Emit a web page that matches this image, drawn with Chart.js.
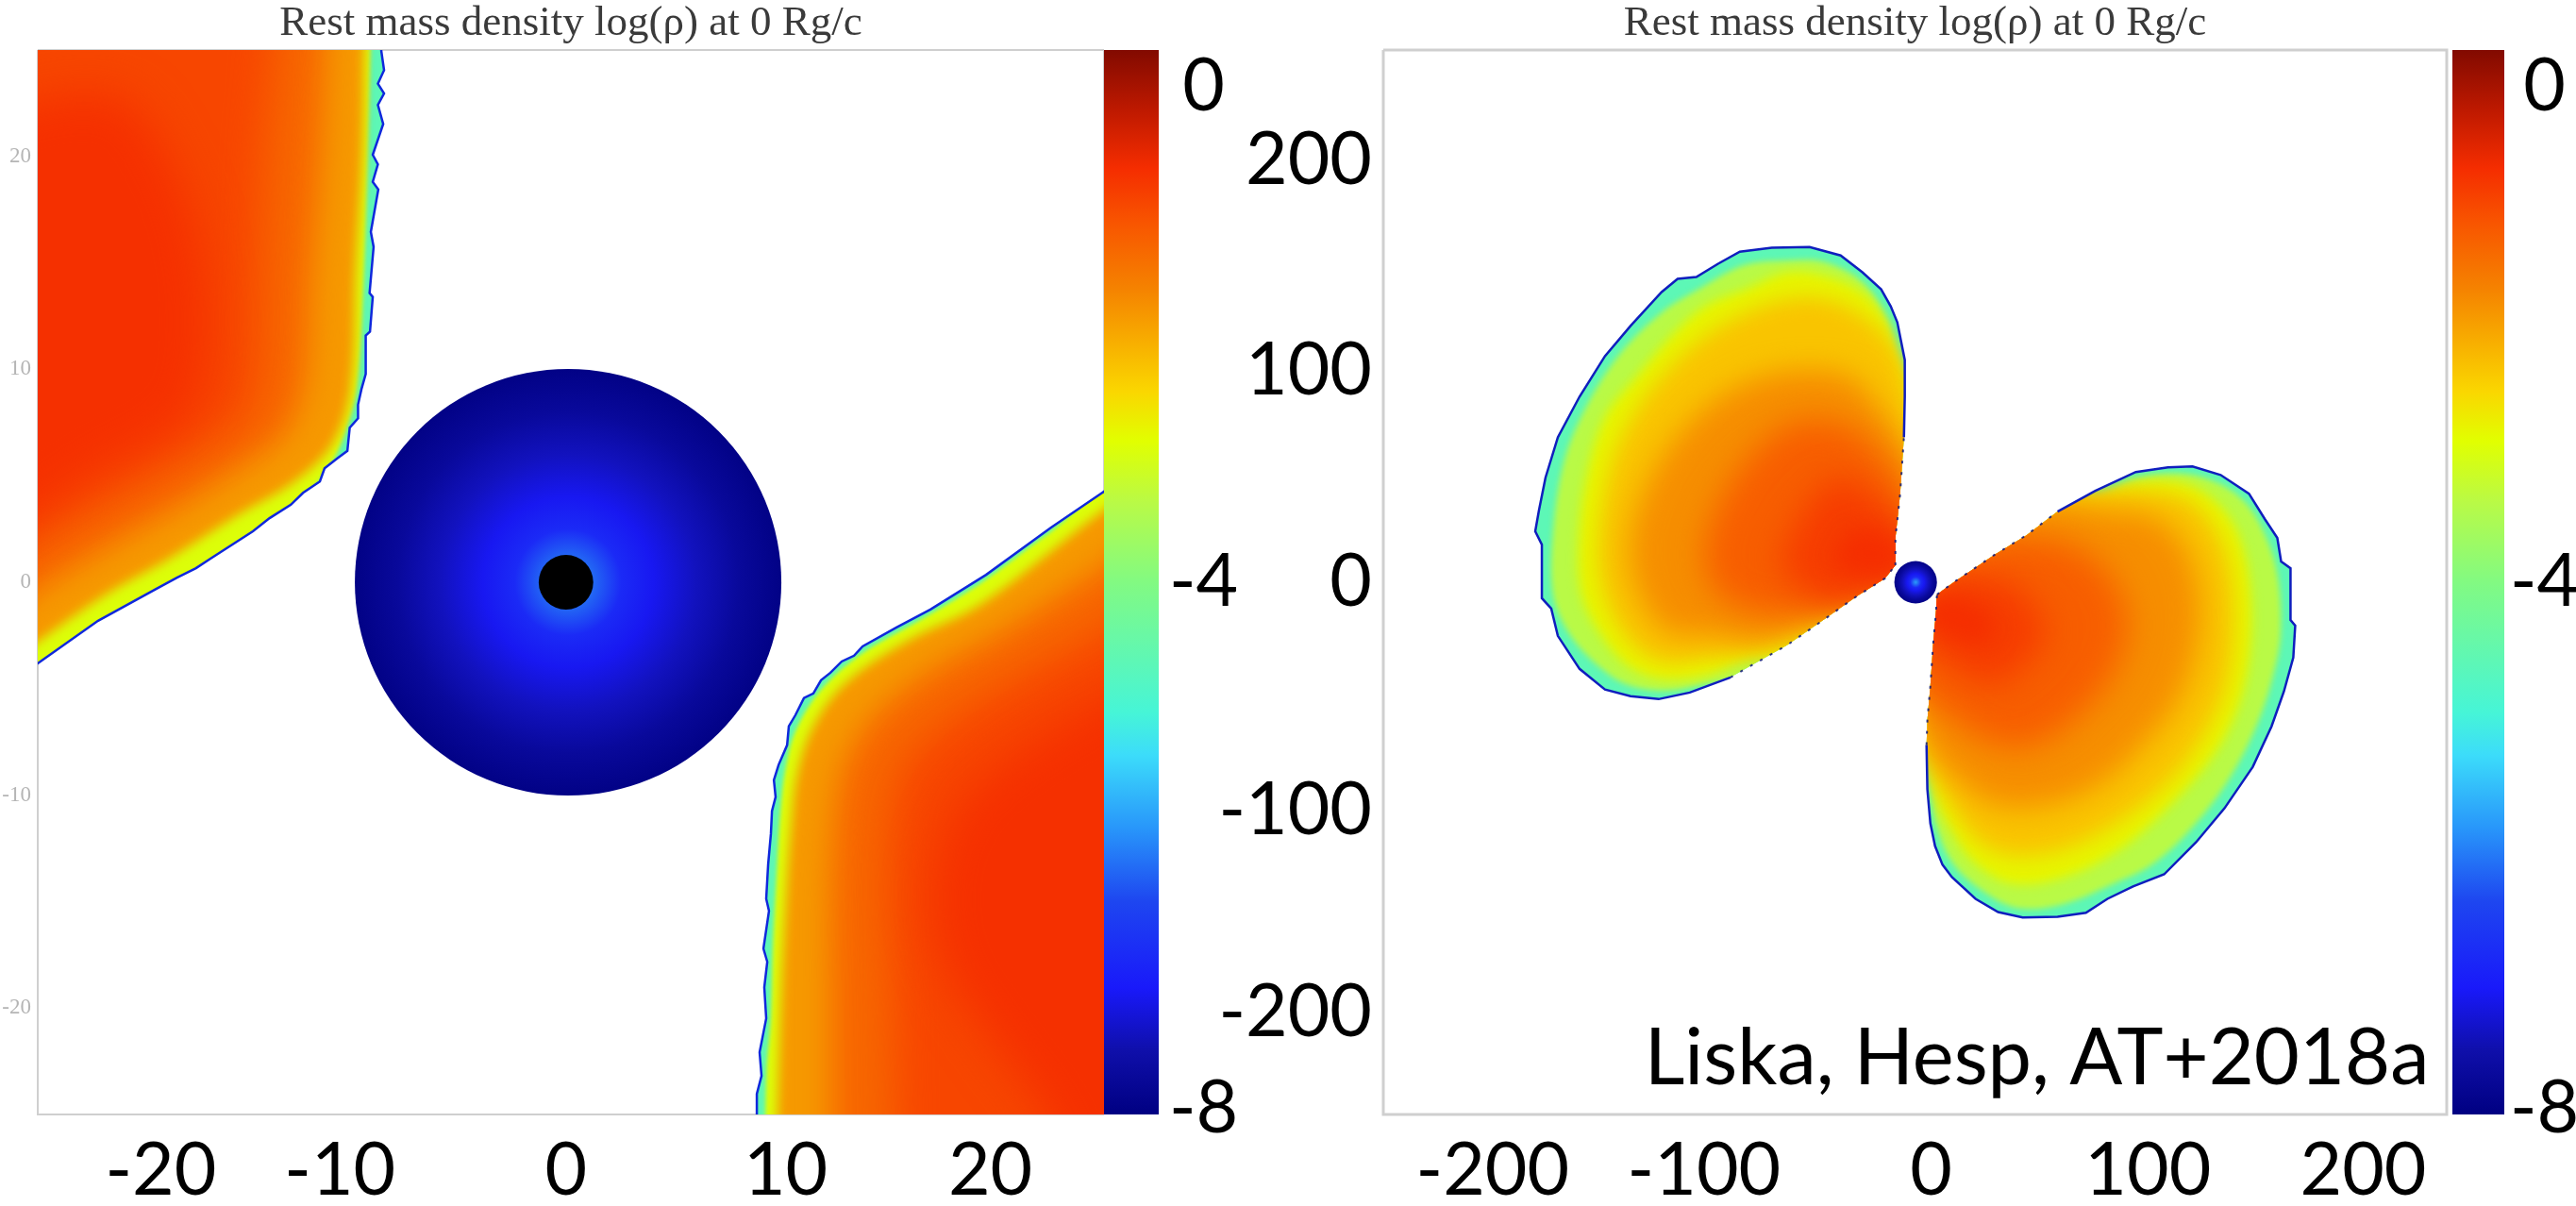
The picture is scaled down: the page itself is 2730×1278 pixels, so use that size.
<!DOCTYPE html>
<html><head><meta charset="utf-8">
<style>html,body{margin:0;padding:0;background:#fff;overflow:hidden}canvas{position:absolute;top:0}</style>
<script src="https://cdn.jsdelivr.net/npm/chart.js@4"></script>
</head><body>
<canvas id="pL" width="1170" height="1278" style="left:0"></canvas>
<canvas id="cL" width="160" height="1278" style="left:1170px"></canvas>
<canvas id="pR" width="1317" height="1278" style="left:1280px"></canvas>
<canvas id="cR" width="131" height="1278" style="left:2599px"></canvas>
<script>
const titleText='Rest mass density log(\u03C1) at 0 Rg/c';
const creditText='Liska, Hesp, AT+2018a';
const creditAnchor=[241,-236];
const cmapLevels=[-8,-7.52,-7.05,-6.4,-5.85,-5.3,-4.98,-4,-3.4,-2.94,-2.57,-1.79,-1.3,-0.89,-0.45,0];
const cmapColors=[[0,0,130],[15,15,170],[25,25,250],[30,70,240],[40,150,250],[60,220,250],[70,245,215],[130,250,130],[185,250,70],[225,255,0],[250,215,0],[245,130,0],[248,85,0],[245,45,0],[190,25,0],[130,10,0]];
const colorbarTickValues=[-7.96,-4,-0.28];
const colorbarTickLabels=['-8','-4','0'];
// Tick labels sit where the figure's author placed them, slightly off the true tick values
const leftTickLabelsX=['-20','-10','0','10','20'],leftTickPlacesX=[-19.1,-10.7,-0.1,10.2,19.8];
const leftTicksY=[-20,-10,0,10,20];
const rightTickLabelsX=['-200','-100','0','100','200'],rightTickPlacesX=[-198.5,-99.3,7.3,109,210];
const rightTickLabelsY=['200','100','0','-100','-200'],rightTickPlacesY=[198,99,0,-107.5,-202];
const sphereCenter=[0,0],sphereRadius=10,holeCenter=[-0.1,0],holeRadius=1.28;
const sphereRadii=[0,1.3,2.5,4,6,8,10];
const sphereLevels=[-5.8,-6.2,-6.8,-7.1,-7.4,-7.7,-7.95];

// Upper-left flow (inner panel)
const flowAEdge=[[-8.76,28],[-8.76,24.96],[-8.63,24.05],[-8.92,23.42],[-8.63,22.96],[-8.92,22.42],[-8.67,21.52],[-9.16,20.08],[-8.92,19.63],[-9.16,18.81],[-8.9,18.45],[-9.25,16.46],[-9.12,15.75],[-9.31,13.58],[-9.16,13.4],[-9.29,11.77],[-9.49,11.59],[-9.49,9.78],[-9.69,9.07],[-9.85,8.34],[-9.85,7.7],[-10.24,7.26],[-10.35,6.17],[-10.84,5.81],[-11.42,5.35],[-11.64,4.73],[-12.43,4.2],[-13,3.64],[-14,3.01],[-14.78,2.39],[-16.77,1.11],[-17.45,0.66],[-18.34,0.22],[-19.34,-0.33],[-22.04,-1.81],[-25,-3.9],[-28,-6]];
const flowACorner=[[-28,28]];
const flowA1=[[-9.2,28],[-9.4,20],[-9.6,14],[-9.9,9.2],[-10.4,7.2],[-11.2,5.4],[-13,3.4],[-16.8,0.7],[-19.4,-0.8],[-28,-6.3],[-28,28]];
const flowA2=[[-9.5,28],[-9.56,24.96],[-9.65,20.09],[-9.96,14.65],[-10.18,9.25],[-11.02,6.55],[-12.83,4.73],[-15.58,3.1],[-18.72,1.1],[-21.68,-0.58],[-24.87,-2.79],[-28,-4.9],[-28,28]];
const flowA3=[[-11.3,28],[-11.37,24.96],[-11.59,20.09],[-12.04,14.47],[-12.39,9.25],[-13.36,6.95],[-15.13,5.62],[-17.79,3.85],[-20.88,2.08],[-24.87,-0.35],[-28,-2.4],[-28,28]];
const flowA4=[[-13.7,28],[-13.81,24.96],[-14.25,20.09],[-14.47,14.03],[-14.69,9.16],[-15.58,7.39],[-17.79,6.06],[-20.88,4.29],[-24.87,2.08],[-28,0],[-28,28]];
const flowA5=[[-28,21.9],[-21.33,22.88],[-18.67,19.78],[-17.12,14.91],[-17.12,9.6],[-18.23,7.39],[-21.33,5.62],[-28,2.5]];

// Lower-right flow (inner panel)
const flowBEdge=[[28,6.2],[25.04,4.2],[22.65,2.57],[19.6,0.35],[16.99,-1.28],[15.4,-2.12],[13.81,-3.01],[13.41,-3.45],[12.83,-3.72],[12.3,-4.25],[11.86,-4.6],[11.5,-5.22],[11.06,-5.44],[10.66,-6.24],[10.35,-6.77],[10.27,-7.65],[9.87,-8.58],[9.65,-9.29],[9.73,-10.09],[9.56,-10.75],[9.51,-11.81],[9.38,-13.27],[9.29,-14.87],[9.42,-15.44],[9.16,-17.21],[9.34,-17.83],[9.2,-19.03],[9.29,-20.49],[8.98,-22.08],[9.07,-23.19],[8.85,-24.03],[8.85,-28]];
const flowBCorner=[[28,-28]];
const flowB1=[[9.2,-28],[9.3,-23],[9.5,-20.5],[9.6,-17.2],[9.8,-13.3],[9.95,-10.8],[10.2,-8.7],[10.7,-6.9],[11.9,-5],[13.7,-3.4],[16.8,-1.6],[19.4,0],[22.4,2.2],[28,6],[28,-28]];
const flowB2=[[9.73,-28],[10,-19.16],[10.22,-14.73],[10.44,-11.64],[10.75,-8.98],[11.5,-6.77],[12.96,-4.78],[15.84,-2.79],[19.38,-1.02],[25.13,3.41],[28,5.3],[28,-28]];
const flowB3=[[12.3,-28],[12.3,-19.16],[12.3,-14.73],[12.52,-10.75],[12.96,-8.54],[14.29,-6.33],[16.73,-4.34],[20.27,-2.35],[25.13,0.75],[28,2.6],[28,-28]];
const flowB4=[[15.4,-28],[15.18,-19.16],[14.96,-14.73],[15.18,-10.75],[15.84,-8.54],[17.61,-6.77],[20.27,-5],[25.13,-2.35],[28,-0.7],[28,-28]];
const flowB5=[[28,-3.9],[21.59,-7.65],[18.5,-10.31],[17.17,-13.85],[17.61,-17.83],[19.82,-21.37],[22.48,-25],[24,-28],[28,-28]];

// Upper-left lobe (outer panel)
const lobeAThinA=[[-9.5,8],[-9.5,20.8],[-7.3,41.2],[-5.5,68.1]];
const lobeAEdge=[[-5.5,68.1],[-5.1,87.2],[-5.1,104.4],[-8.6,122.1],[-11.7,129.6],[-16.2,137.6],[-25,145.6],[-35.2,153.5],[-49.8,157.5],[-67.5,157.1],[-82.5,155.3],[-92.7,149.6],[-102.9,143.4],[-111.7,142.5],[-119.2,136.3],[-133.8,120.4],[-145.8,106.2],[-157.7,87.2],[-167.9,68.1],[-173.7,49.1],[-176.8,33.6],[-178.5,23.9],[-175.4,17.7],[-175.4,-7.5],[-171,-12.4],[-167.9,-25.2],[-157.7,-40.7],[-145.8,-50.4],[-133.8,-53.5],[-120.6,-54.9],[-106,-51.8],[-86.9,-44.7]];
const lobeAThinB=[[-86.9,-44.7],[-60.4,-29.6],[-42.7,-17.3],[-27.7,-6.6],[-14.4,1.8],[-9.5,8]];
const lobeA2=[[0,74.6],[-9.3,109.3],[-13.7,123.6],[-24.8,140.9],[-42.5,150.4],[-60.2,151.2],[-80.9,148.8],[-101.5,137.8],[-119.2,126.7],[-138.4,107.8],[-154.6,82.5],[-164.9,57.2],[-170.1,24],[-170.1,-6],[-162,-25],[-147.2,-40.8],[-134,-48.7],[-116.3,-51],[-94.1,-47.1],[-72,-45],[-49.9,-35],[-27.8,-20],[-5,-5]];
const lobeA3=[[0,80.9],[-10.05,109.3],[-14.5,123.6],[-24.8,136.2],[-42.5,144.1],[-60.2,145.7],[-79.4,137.8],[-98.5,129.9],[-113.3,117.2],[-131,96.7],[-145.8,77.7],[-154.6,49.3],[-158.3,17.7],[-156.8,-6],[-148.7,-23.4],[-135.4,-39.2],[-119.2,-45.5],[-98.5,-43.9],[-77.9,-36],[-57.2,-35],[-35.1,-22],[-20.4,-12],[0,0]];
const lobeA4=[[0,74.6],[-8,107],[-24.8,125.1],[-42.5,133],[-60.2,133],[-79.4,126.7],[-98.5,115.7],[-116.3,99.9],[-131,80.9],[-142.8,55.6],[-148.7,17.7],[-145.8,-6],[-135.4,-26.5],[-119.2,-37.6],[-98.5,-36],[-75,-32],[-54.3,-26],[-33.6,-15],[0,0]];
const lobeA5=[[0,55.6],[-16,80.9],[-30.7,96.7],[-49.9,99.9],[-72,96.7],[-94.1,85.6],[-113.3,66.7],[-126.6,44.6],[-134,17.7],[-129.5,-6],[-116.3,-23.4],[-95.6,-25],[-72,-28],[-49.9,-20],[-27.8,-12],[0,0]];
const lobeA6=[[-2,39.8],[-20.4,65.1],[-35.1,74.6],[-57.2,74.6],[-75,61.9],[-89.7,41.4],[-98.5,17.7],[-95.6,-1.3],[-80.9,-12.3],[-57.2,-15],[-27.8,-8],[-5,0]];
const lobeA7=[[-2,24],[-20.4,41.4],[-35.1,49.3],[-48.4,39.8],[-57.2,25.6],[-63.1,9.8],[-54.3,-2.8],[-35.1,-10],[-5,3]];
const lobeA8=[[-5,17.7],[-23.3,25.6],[-33.6,20.9],[-38.1,8.2],[-27.8,3.5],[-8,4]];

// Lower-right lobe (outer panel)
const lobeBThinA=[[10,-5.8],[17.9,0],[36.9,12.8],[52,22.1],[66.6,33.2]];
const lobeBEdge=[[66.6,33.2],[84.3,42.9],[103.3,51.8],[118.4,54],[129.9,54.4],[143.1,50.4],[156.4,41.6],[163.9,29.6],[169.7,20.8],[171.5,9.7],[175.9,6.6],[175.9,-17.7],[178.1,-20.4],[177.2,-35.4],[172.8,-51.3],[167,-67.7],[158.2,-86.7],[144.9,-106.2],[131.6,-122.1],[116.6,-137.2],[102,-142.9],[90,-148.7],[79.9,-155.3],[66.6,-157.1],[50.2,-157.5],[38.7,-154.9],[28.1,-148.7],[17,-138.5],[12.6,-132.7],[9.1,-123.9],[6.9,-113.3],[5.5,-97.3],[5.1,-76.5]];
const lobeBThinB=[[5.1,-76.5],[5.5,-64.6],[6.9,-48.7],[8.2,-29.2],[9.5,-14.6],[10,-5.8]];
const lobeB2=[[40,30],[60,42],[84.3,40.7],[103.5,48.8],[125.6,51],[141.8,46.6],[155.1,37],[164,22.2],[169.9,3],[171.3,-23.5],[168.4,-41.2],[161,-64.8],[147.7,-91.4],[130,-115],[110.9,-132.7],[93.2,-141.5],[69.6,-151.1],[48.9,-153.3],[32.7,-145.9],[17.9,-132.7],[9.8,-115],[6.9,-97.3],[0,-67.8],[0,-30.9],[0,5]];
const lobeB3=[[30,25],[45,35],[62,40],[84.3,39.9],[103.5,46.6],[125.6,46.6],[141.8,37],[152.2,20.8],[157.3,-5.8],[156.6,-35.3],[150.7,-60.4],[138.9,-82.5],[118.2,-106.1],[96.1,-125.3],[69.6,-138.6],[44.5,-141.5],[26.8,-131.2],[16.5,-116.4],[9.8,-101.7],[6.9,-82.5],[0,-67.8],[0,-30.9],[0,5]];
const lobeB4=[[75,42],[103.5,42.9],[125.6,39.9],[137.4,29.6],[146.3,10.4],[149.2,-16.1],[146.3,-45.6],[137.4,-67.8],[119.7,-92.8],[96.1,-112],[69.6,-125.3],[44.5,-128.2],[28.3,-120.9],[16.5,-104.6],[5,-82.5],[0,-60.4],[0,-23.5],[0,5],[30,25],[45,35]];
const lobeB5=[[65,38],[88.7,34],[110.9,31.1],[125.6,17.8],[133,-5.8],[131.5,-30.9],[122.7,-55.9],[106.4,-76.6],[87.3,-94.3],[62.2,-104.6],[37.1,-104.6],[19.4,-92.8],[4,-75.1],[0,-50],[0,-17.6],[10,5],[40,30]];
const lobeB6=[[42,22],[66.6,19.3],[84.3,10.4],[96.1,-5.8],[99.1,-23.5],[91.7,-44.2],[75.5,-63.3],[54.8,-76.6],[34.2,-75.1],[17.9,-64.8],[0,-50],[0,-17.6],[15,8]];
const lobeB7=[[15,5],[44.5,0.1],[57.8,-13.2],[60.7,-26.5],[48.9,-41.2],[34.2,-48.6],[19.4,-41.2],[3,-29.4],[3,-10.2]];
const lobeB8=[[8,-5],[28.3,-10.2],[37.1,-22],[29.7,-29.4],[19.4,-26.5],[3,-17.6]];

const flowLevels=[-4.6,-3,-2,-1.5,-1.15,-0.92];
const lobeLevels=[-4.6,-3.4,-2.85,-2.4,-1.9,-1.4,-1.05,-0.9];

function colorOf(v){
  let i=0;while(i<cmapLevels.length-2&&v>cmapLevels[i+1])i++;
  const t=Math.min(1,Math.max(0,(v-cmapLevels[i])/(cmapLevels[i+1]-cmapLevels[i])));
  const a=cmapColors[i],b=cmapColors[i+1];
  return `rgb(${a.map((c,k)=>Math.round(c+(b[k]-c)*t)).join(',')})`;
}
const pts=a=>a.map(p=>({x:p[0],y:p[1]}));
const close=a=>[...a,a[0]];

// Soft band transitions: each contour layer is blurred and clipped to its region outline
const softBands={id:'softBands',
  beforeDatasetDraw(chart,args){
    const d=chart.data.datasets[args.index];
    if(d.clipTo===undefined)return;
    const c=chart.ctx;c.save();c.beginPath();
    chart.getDatasetMeta(d.clipTo).dataset.path(c);c.closePath();c.clip();
    if(d.soft)c.filter=`blur(${d.soft}px)`;
  },
  afterDatasetDraw(chart,args){
    if(chart.data.datasets[args.index].clipTo!==undefined)chart.ctx.restore();
  }};
Chart.unregister(Chart.Filler);Chart.register(softBands);Chart.register(Chart.Filler);

function region(list,start,outline,outerLevel,layers,levels,blurs,strokes,strokeStyle){
  list.push({data:pts(outline),backgroundColor:colorOf(outerLevel),fill:'shape',borderWidth:0});
  layers.forEach((l,i)=>list.push({data:pts(close(l)),backgroundColor:colorOf(levels[i]),fill:'shape',borderWidth:0,tension:0.35,clipTo:start,soft:blurs[i]}));
  strokes.forEach((s,i)=>list.push({data:pts(s),fill:false,borderColor:strokeStyle[i].c,borderWidth:strokeStyle[i].w,borderDash:strokeStyle[i].d||[],tension:0}));
}
const valueRadius=(c,r)=>{const s=c.chart.scales.x;const v=Math.abs(s.getPixelForValue(r)-s.getPixelForValue(0));return isFinite(v)?v:0;};
function sphereDataset(){
  return {type:'scatter',isMark:true,showLine:false,data:pts([sphereCenter]),pointBorderWidth:0,pointHoverRadius:0,
    pointRadius:c=>valueRadius(c,sphereRadius),
    pointBackgroundColor:c=>{
      const {x,y}=c.chart.scales,px=x.getPixelForValue(sphereCenter[0]),py=y.getPixelForValue(sphereCenter[1]);
      const R=valueRadius(c,sphereRadius);
      if(!isFinite(px)||!isFinite(py)||!R)return colorOf(sphereLevels[3]);
      const g=c.chart.ctx.createRadialGradient(px,py,0,px,py,R);
      sphereRadii.forEach((r,i)=>g.addColorStop(r/sphereRadius,colorOf(sphereLevels[i])));
      return g;}};
}
function frameDataset(xr,yr,w){
  return {data:pts([[xr[0],yr[1]],[xr[1],yr[1]],[xr[1],yr[0]],[xr[0],yr[0]],[xr[0],yr[1]]]),borderColor:'#cfcfcf',borderWidth:w,fill:false,clip:false};
}
function finish(list){
  list.forEach((d,i)=>{d.order=1000-i;if(!d.isMark){d.type='scatter';d.showLine=true;d.pointRadius=0;d.pointHoverRadius=0;}});
  return list;
}
const bigFont={family:'Lato',size:77};
const setTicks=(values,labels)=>({
  afterBuildTicks:s=>{s.ticks=values.map(v=>({value:v}));},
  afterTickToLabelConversion:s=>{if(labels)s.ticks.forEach((t,i)=>{t.label=labels[i];});}
});
const noMargins=s=>{s.paddingTop=s.paddingBottom=s.paddingLeft=s.paddingRight=0;};
function panel(id,list,xr,yr,xAxisTicks,yAxisTicks,yTickOpts,yw,padRight,extra){
  new Chart(document.getElementById(id),{type:'scatter',data:{datasets:finish(list)},
    plugins:extra?[extra]:[],
    options:{responsive:false,animation:false,devicePixelRatio:1,layout:{padding:{left:0,right:padRight,top:0,bottom:0}},
      elements:{line:{capBezierPoints:false}},
      plugins:{legend:{display:false},tooltip:{enabled:false},
        title:{display:true,fullSize:false,text:titleText,color:'#3a3a3a',font:{family:'Liberation Serif',size:45,weight:'normal',lineHeight:1},padding:{top:3,bottom:5}}},
      scales:{
        x:{type:'linear',min:xr[0],max:xr[1],afterFit:s=>{s.height=97;noMargins(s);},...xAxisTicks,
          grid:{display:false,drawTicks:false},border:{display:false},
          ticks:{font:bigFont,color:'#000',padding:14,maxRotation:0,autoSkip:false,align:'center'}},
        y:{type:'linear',min:yr[0],max:yr[1],afterFit:s=>{s.width=yw;noMargins(s);},...yAxisTicks,
          grid:{display:false,drawTicks:false},border:{display:false},ticks:yTickOpts}
      }}});
}
function colorbar(id,axisW,pad){
  new Chart(document.getElementById(id),{type:'bar',
    data:{labels:[''],datasets:[{data:[[-8,0]],barPercentage:1,categoryPercentage:1,borderWidth:0,
      backgroundColor:c=>{
        const y=c.chart.scales.y,a=y.getPixelForValue(-8),b=y.getPixelForValue(0);
        if(!isFinite(a)||!isFinite(b))return colorOf(-4);
        const g=c.chart.ctx.createLinearGradient(0,a,0,b);
        cmapLevels.forEach((v,i)=>g.addColorStop((v+8)/8,`rgb(${cmapColors[i].join(',')})`));
        return g;}}]},
    options:{responsive:false,animation:false,devicePixelRatio:1,layout:{padding:{top:53,bottom:97,left:0,right:0}},
      plugins:{legend:{display:false},tooltip:{enabled:false}},
      scales:{x:{display:false},
        y:{position:'right',min:-8,max:0,afterFit:s=>{s.width=axisW;noMargins(s);},...setTicks(colorbarTickValues,colorbarTickLabels),
          grid:{display:false,drawTicks:false},border:{display:false},
          ticks:{font:bigFont,color:'#000',padding:pad,crossAlign:'center',autoSkip:false}}}}});
}
// Left panel
const xrL=[-24.87,25.13],yrL=[-25,25];
const L=[frameDataset(xrL,yrL,2)];
const flowBlur=[2,6,16,22,24];
const flowStroke=[{c:'rgb(15,40,220)',w:2.5}];
region(L,L.length,[...flowAEdge,...flowACorner],flowLevels[0],[flowA1,flowA2,flowA3,flowA4,flowA5],flowLevels.slice(1),flowBlur,[flowAEdge],flowStroke);
region(L,L.length,[...flowBEdge,...flowBCorner],flowLevels[0],[flowB1,flowB2,flowB3,flowB4,flowB5],flowLevels.slice(1),flowBlur,[flowBEdge],flowStroke);
L.push(sphereDataset());
L.push({type:'scatter',isMark:true,showLine:false,data:pts([holeCenter]),pointBorderWidth:0,pointHoverRadius:0,pointBackgroundColor:'#000',
  pointRadius:c=>valueRadius(c,holeRadius)});
panel('pL',L,xrL,yrL,setTicks(leftTickPlacesX,leftTickLabelsX),setTicks(leftTicksY),{font:{family:'Liberation Serif',size:23},color:'#b5b5b5',padding:7,autoSkip:false},40,0);

// Right panel
const xrR=[-249.8,249.2],yrR=[-250,250];
const R=[frameDataset(xrR,yrR,3)];
const thin={c:'rgba(15,25,120,0.85)',w:2,d:[3,9]},solid={c:'rgb(15,30,190)',w:2.5};
const lobeBlur=[3,6,11,15,17,17,12];
region(R,R.length,[...lobeAThinA,...lobeAEdge,...lobeAThinB],lobeLevels[0],[lobeA2,lobeA3,lobeA4,lobeA5,lobeA6,lobeA7,lobeA8],lobeLevels.slice(1),lobeBlur,[lobeAThinA,lobeAEdge,lobeAThinB],[thin,solid,thin]);
region(R,R.length,[...lobeBThinA,...lobeBEdge,...lobeBThinB],lobeLevels[0],[lobeB2,lobeB3,lobeB4,lobeB5,lobeB6,lobeB7,lobeB8],lobeLevels.slice(1),lobeBlur,[lobeBThinA,lobeBEdge,lobeBThinB],[thin,solid,thin]);
R.push(sphereDataset());
const credit={id:'credit',afterDatasetsDraw(chart){
  const c=chart.ctx;c.save();c.font='83px Lato';c.fillStyle='#000';c.textAlign='right';c.textBaseline='alphabetic';
  c.fillText(creditText,chart.scales.x.getPixelForValue(creditAnchor[0]),chart.scales.y.getPixelForValue(creditAnchor[1]));c.restore();}};
panel('pR',R,xrR,yrR,setTicks(rightTickPlacesX,rightTickLabelsX),setTicks(rightTickPlacesY,rightTickLabelsY),{font:bigFont,color:'#000',padding:12,autoSkip:false},186,4,credit);

colorbar('cL',102,11);
colorbar('cR',76,6);
</script></body></html>
